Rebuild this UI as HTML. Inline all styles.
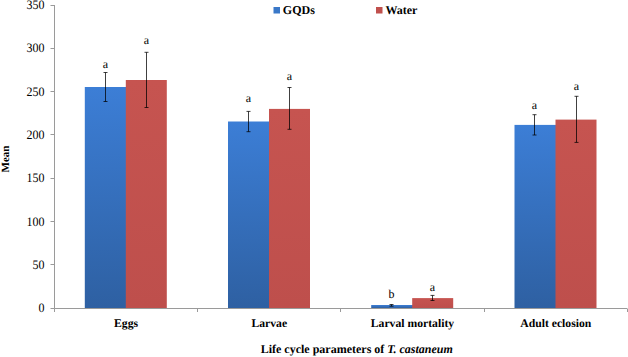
<!DOCTYPE html><html><head><meta charset="utf-8"><style>html,body{margin:0;padding:0;background:#fff;}svg{display:block;}</style></head><body>
<svg width="628" height="357" viewBox="0 0 628 357" font-family="Liberation Serif, serif" text-rendering="geometricPrecision">
<defs><linearGradient id="gb" x1="0" y1="0" x2="0" y2="1" gradientUnits="userSpaceOnUse" ><stop offset="0" stop-color="#3c7ed6"/><stop offset="1" stop-color="#2e60a2"/></linearGradient></defs>
<rect width="628" height="357" fill="#fff"/>
<defs><linearGradient id="gB" x1="0" y1="0" x2="0" y2="1"><stop offset="0" stop-color="#3c7ed6"/><stop offset="1" stop-color="#2e60a2"/></linearGradient><linearGradient id="gR" x1="0" y1="0" x2="0" y2="1"><stop offset="0" stop-color="#c65450"/><stop offset="1" stop-color="#be4f4c"/></linearGradient></defs>
<rect x="84.80" y="87.00" width="42.50" height="221.00" fill="url(#gB)"/>
<rect x="125.80" y="80.00" width="41.00" height="228.00" fill="url(#gR)"/>
<rect x="228.00" y="121.50" width="42.50" height="186.50" fill="url(#gB)"/>
<rect x="269.00" y="108.90" width="41.00" height="199.10" fill="url(#gR)"/>
<rect x="371.20" y="305.00" width="42.50" height="3.00" fill="url(#gB)"/>
<rect x="412.20" y="298.10" width="41.00" height="9.90" fill="url(#gR)"/>
<rect x="514.50" y="124.90" width="42.50" height="183.10" fill="url(#gB)"/>
<rect x="555.50" y="119.60" width="41.00" height="188.40" fill="url(#gR)"/>
<g stroke="#9a9a9a" stroke-width="1" fill="none">
<path d="M54.5 5 V308.5 H627"/>
<path d="M50.5 308.5 H54.5"/>
<path d="M50.5 264.5 H54.5"/>
<path d="M50.5 221.5 H54.5"/>
<path d="M50.5 178.5 H54.5"/>
<path d="M50.5 134.5 H54.5"/>
<path d="M50.5 91.5 H54.5"/>
<path d="M50.5 48.5 H54.5"/>
<path d="M50.5 5.5 H54.5"/>
<path d="M54.5 308.5 V312"/>
<path d="M197.5 308.5 V312"/>
<path d="M340.5 308.5 V312"/>
<path d="M484.5 308.5 V312"/>
<path d="M627.5 308.5 V312"/>
</g>
<g stroke="#000" stroke-opacity="0.75" stroke-width="1" fill="none">
<path d="M105.5 72.5 V101.5 M103.5 72.5 H107.5 M103.5 101.5 H107.5"/>
<path d="M146.5 52.3 V107.5 M144.5 52.3 H148.5 M144.5 107.5 H148.5"/>
<path d="M248.5 111.4 V131.7 M246.5 111.4 H250.5 M246.5 131.7 H250.5"/>
<path d="M289.5 87.5 V129.3 M287.5 87.5 H291.5 M287.5 129.3 H291.5"/>
<path d="M391.5 304.5 V306.2 M389.5 304.5 H393.5 M389.5 306.2 H393.5"/>
<path d="M432.5 295.4 V300.5 M430.5 295.4 H434.5 M430.5 300.5 H434.5"/>
<path d="M534.5 114.7 V135.0 M532.5 114.7 H536.5 M532.5 135.0 H536.5"/>
<path d="M576.5 96.3 V142.4 M574.5 96.3 H578.5 M574.5 142.4 H578.5"/>
</g>
<g font-size="12" fill="#000">
<text x="105.50" y="67.60" text-anchor="middle">a</text>
<text x="146.50" y="43.70" text-anchor="middle">a</text>
<text x="248.50" y="101.60" text-anchor="middle">a</text>
<text x="289.50" y="79.80" text-anchor="middle">a</text>
<text x="391.50" y="298.10" text-anchor="middle">b</text>
<text x="432.50" y="290.70" text-anchor="middle">a</text>
<text x="534.50" y="108.80" text-anchor="middle">a</text>
<text x="576.50" y="90.10" text-anchor="middle">a</text>
</g>
<g font-size="12" fill="#000" text-anchor="end">
<text transform="translate(44.5 312.20) scale(0.93 1)" font-size="12.9">0</text>
<text transform="translate(44.5 268.91) scale(0.93 1)" font-size="12.9">50</text>
<text transform="translate(44.5 225.63) scale(0.93 1)" font-size="12.9">100</text>
<text transform="translate(44.5 182.34) scale(0.93 1)" font-size="12.9">150</text>
<text transform="translate(44.5 139.06) scale(0.93 1)" font-size="12.9">200</text>
<text transform="translate(44.5 95.77) scale(0.93 1)" font-size="12.9">250</text>
<text transform="translate(44.5 52.49) scale(0.93 1)" font-size="12.9">300</text>
<text transform="translate(44.5 9.20) scale(0.93 1)" font-size="12.9">350</text>
</g>
<g font-size="11.7" font-weight="bold" fill="#000" text-anchor="middle">
<text x="126.10" y="326.6">Eggs</text>
<text x="269.30" y="326.6">Larvae</text>
<text x="412.50" y="326.6">Larval mortality</text>
<text x="555.80" y="326.6">Adult eclosion</text>
</g>
<text x="356.8" y="353.3" font-size="12" font-weight="bold" text-anchor="middle">Life cycle parameters of <tspan font-style="italic">T. castaneum</tspan></text>
<text transform="translate(8.8 159) rotate(-90)" font-size="11" font-weight="bold" text-anchor="middle">Mean</text>
<rect x="273.5" y="7" width="6.5" height="6.5" fill="#3a78c8"/>
<text x="282.8" y="13.6" font-size="12" font-weight="bold">GQDs</text>
<rect x="376" y="7" width="6.5" height="6.5" fill="#c0504d"/>
<text x="385.4" y="13.6" font-size="12" font-weight="bold">Water</text>
</svg></body></html>
